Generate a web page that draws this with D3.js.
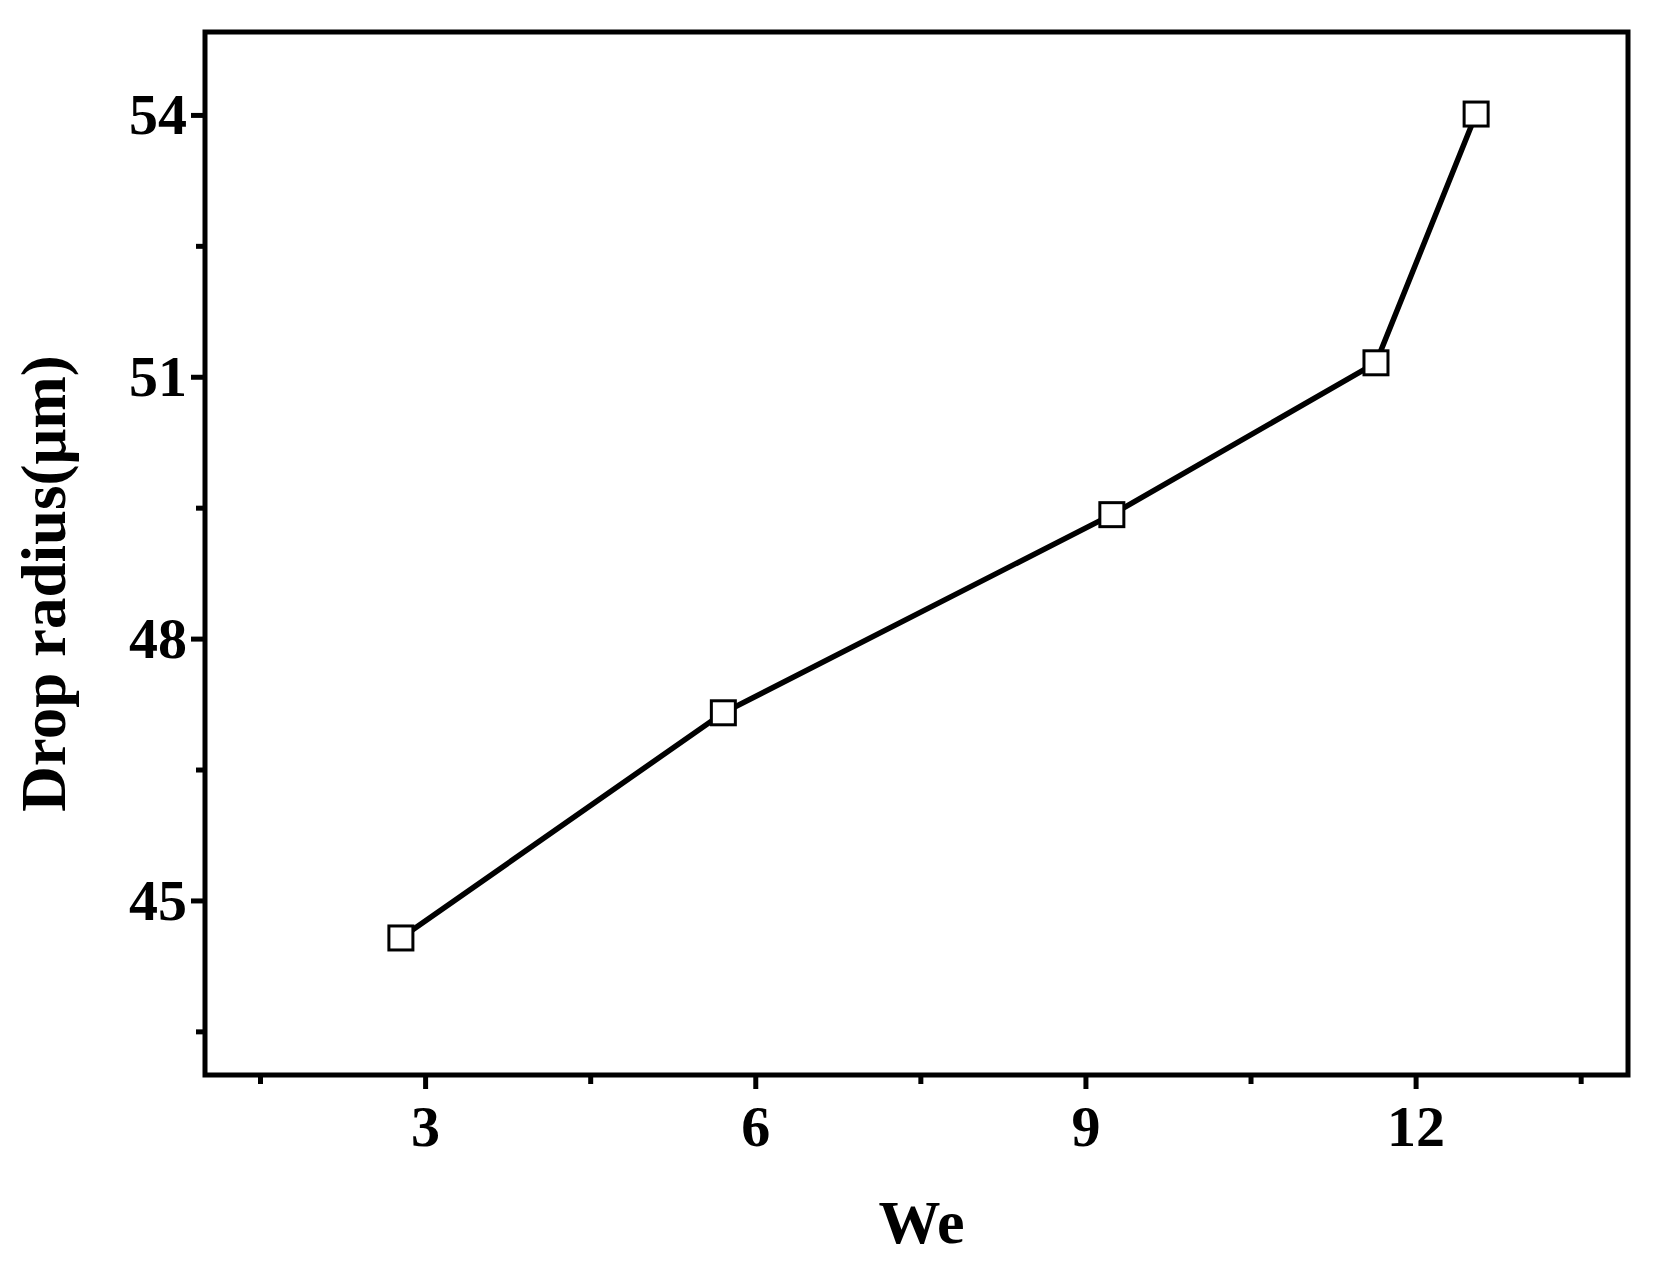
<!DOCTYPE html>
<html lang="en">
<head>
<meta charset="UTF-8">
<title>Drop radius vs We</title>
<script src="https://d3js.org/d3.v7.min.js"></script>
<style>body{margin:0;background:#fff}</style>
</head>
<body>
<svg width="1663" height="1266"></svg>
<script>
// Data
const weValues = [2.78, 5.71, 9.24, 11.64, 12.55];
const radiusValues = [44.57, 47.15, 49.42, 51.16, 54.01];
const xTicks = [3, 6, 9, 12];
const yTicks = [45, 48, 51, 54];

const margin = { top: 32, right: 35, bottom: 191, left: 205 },
      width = 1663 - margin.left - margin.right,
      height = 1266 - margin.top - margin.bottom;

const svg = d3.select("svg").append("g")
    .attr("transform", `translate(${margin.left},${margin.top})`);

const x = d3.scaleLinear().domain([1, 13.93]).range([0, width]);
const y = d3.scaleLinear().domain([43, 54.95]).range([height, 0]);

const font = "'Liberation Serif', 'Times New Roman', serif";

// x axis major + minor ticks
svg.append("g").attr("transform", `translate(0,${height})`)
    .call(d3.axisBottom(x).tickValues(xTicks).tickSize(14).tickPadding(16).tickFormat(d3.format("d")));
svg.append("g").attr("transform", `translate(0,${height})`)
    .call(d3.axisBottom(x).tickValues([1.5, 4.5, 7.5, 10.5, 13.5]).tickSize(9).tickFormat(""));

svg.append("g")
    .call(d3.axisLeft(y).tickValues(yTicks).tickSize(14).tickPadding(4).tickFormat(d3.format("d")));
svg.append("g")
    .call(d3.axisLeft(y).tickValues([43.5, 46.5, 49.5, 52.5]).tickSize(9).tickFormat(""));

svg.selectAll(".domain").remove();
svg.selectAll(".tick line").attr("stroke", "#000").attr("stroke-width", 5);
svg.selectAll(".tick text").attr("fill", "#000")
    .style("font-family", font).style("font-weight", "bold").style("font-size", "58px");

// frame
svg.append("rect").attr("width", width).attr("height", height)
    .attr("fill", "none").attr("stroke", "#000").attr("stroke-width", 5);

const pts = weValues.map((v, i) => [v, radiusValues[i]]);
svg.append("path").datum(pts)
    .attr("fill", "none").attr("stroke", "#000").attr("stroke-width", 5.5)
    .attr("d", d3.line().x(d => x(d[0])).y(d => y(d[1])));

svg.selectAll("rect.pt").data(pts).enter().append("rect")
    .attr("class", "pt")
    .attr("x", d => x(d[0]) - 12).attr("y", d => y(d[1]) - 12)
    .attr("width", 24).attr("height", 24)
    .attr("fill", "#fff").attr("stroke", "#000").attr("stroke-width", 3);

svg.append("text")
    .attr("x", width / 2 + 5).attr("y", height + 168)
    .attr("text-anchor", "middle")
    .style("font-family", font).style("font-weight", "bold").style("font-size", "62px")
    .text("We");

svg.append("text")
    .attr("transform", `translate(-140,${height / 2 + 30}) rotate(-90)`)
    .attr("text-anchor", "middle")
    .style("font-family", font).style("font-weight", "bold").style("font-size", "63px")
    .text("Drop radius(μm)");
</script>
</body>
</html>
